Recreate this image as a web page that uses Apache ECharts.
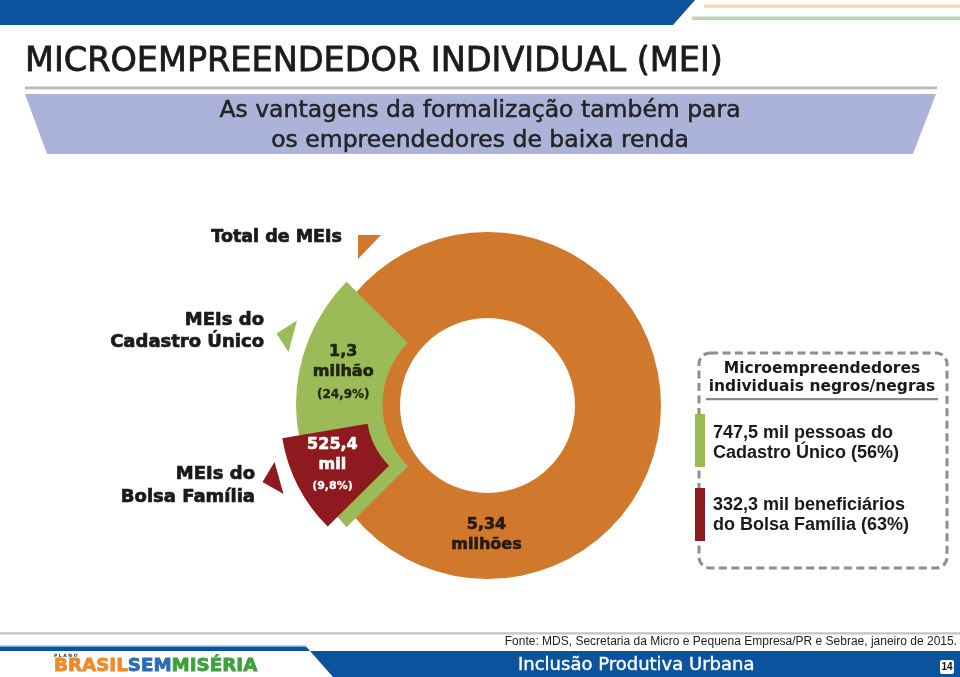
<!DOCTYPE html>
<html>
<head>
<meta charset="utf-8">
<script src="https://cdn.jsdelivr.net/npm/echarts@6/dist/echarts.min.js"></script>
<style>
html,body{margin:0;padding:0;background:#fff;}
#chart{width:960px;height:677px;}
</style>
</head>
<body>
<div id="chart"></div>
<script>
// ---- data ----
const categories = ['Total de MEIs', 'MEIs do\nCadastro Único', 'MEIs do\nBolsa Família'];
const valueLabels = ['5,34', '1,3', '525,4'];
const unitLabels = ['milhões', 'milhão', 'mil'];
const valuesThousands = [5340, 1300, 525.4];
const sharePct = [100, 24.9, 9.8];
const negrosValues = ['747,5', '332,3'];
const negrosGroups = ['mil pessoas do\nCadastro Único', 'mil beneficiários\ndo Bolsa Família'];
const negrosPct = [56, 63];

// ---- styles ----
const ORANGE = '#d0782c', GREEN = '#9bbb59', RED = '#8e1a1f', BLUE = '#0b539c', LAV = '#abb4d8';
const fmtPct = v => '(' + String(v).replace('.', ',') + '%)';

const chart = echarts.init(document.getElementById('chart'), null, {renderer: 'canvas'});

function txt(x, y, text, font, fill, align, valign, extra) {
  return {
    type: 'text', x: x, y: y, silent: true,
    style: Object.assign({
      text: text, font: font, fill: fill,
      textAlign: align, textVerticalAlign: valign,
      align: align, verticalAlign: valign
    }, extra || {})
  };
}
const heavy = c => ({stroke: c, lineWidth: 0.7});

const startA = 180 + sharePct[1] * 3.6 / 2;

function richStyle(color, size, lh, bw) {
  return {fontFamily: 'DejaVu Sans', fontWeight: 'bold', fontSize: size, color: color, lineHeight: lh, align: 'center',
          textBorderColor: color, textBorderWidth: bw};
}

const option = {
  animation: false,
  backgroundColor: '#ffffff',
  graphic: {
    elements: [
      // header
      {type: 'polygon', silent: true, shape: {points: [[0,0],[695,0],[673,25],[0,25]]}, style: {fill: BLUE}},
      {type: 'rect', silent: true, shape: {x: 704, y: 4.5, width: 256, height: 3.5}, style: {fill: '#f8d8b8'}},
      {type: 'rect', silent: true, shape: {x: 692, y: 16.5, width: 268, height: 3.5}, style: {fill: '#bdd3b9'}},
      txt(25, 62, 'MICROEMPREENDEDOR INDIVIDUAL (MEI)', '33.5px "DejaVu Sans"', '#1b1b1b', 'left', 'middle', {stroke: '#1b1b1b', lineWidth: 0.8}),
      {type: 'rect', silent: true, shape: {x: 25, y: 86.5, width: 912, height: 2.8}, style: {fill: '#b9b9b9'}},
      {type: 'polygon', silent: true, shape: {points: [[25,94],[936,94],[913,154],[47,154]]}, style: {fill: LAV}},
      txt(480, 125.5, 'As vantagens da formalização também para\nos empreendedores de baixa renda', '23.5px "DejaVu Sans"', '#232323', 'center', 'middle', {lineHeight: 30, stroke: '#232323', lineWidth: 0.5}),

      // left labels
      txt(342, 237, categories[0], 'bold 17.5px "DejaVu Sans"', '#1a1a1a', 'right', 'middle', heavy('#1a1a1a')),
      txt(264, 331.5, categories[1], 'bold 18px "DejaVu Sans"', '#1a1a1a', 'right', 'middle', Object.assign({lineHeight: 22}, heavy('#1a1a1a'))),
      txt(255, 486, categories[2], 'bold 18px "DejaVu Sans"', '#1a1a1a', 'right', 'middle', Object.assign({lineHeight: 23}, heavy('#1a1a1a'))),

      // pointer triangles
      {type: 'polygon', silent: true, shape: {points: [[358,235],[381,235],[358,259]]}, style: {fill: ORANGE}},
      {type: 'polygon', silent: true, shape: {points: [[297,320.5],[276.5,333.5],[288.5,352]]}, style: {fill: GREEN}},
      {type: 'polygon', silent: true, shape: {points: [[274.5,462],[262.5,482],[283.5,494]]}, style: {fill: RED}},

      // right box
      {type: 'rect', silent: true, shape: {x: 699, y: 353, width: 248, height: 215, r: 11},
        style: {fill: 'none', stroke: '#8e8e8e', lineWidth: 3, lineDash: [8, 4.5]}},
      txt(822, 378, 'Microempreendedores\nindividuais negros/negras', 'bold 15.5px "DejaVu Sans"', '#1a1a1a', 'center', 'middle', {lineHeight: 18}),
      {type: 'rect', silent: true, shape: {x: 706, y: 398, width: 232, height: 2.2}, style: {fill: '#8a8a8a'}},
      {type: 'rect', silent: true, shape: {x: 695, y: 414, width: 10, height: 53}, style: {fill: GREEN}},
      {type: 'rect', silent: true, shape: {x: 695, y: 488, width: 10, height: 53}, style: {fill: RED}},
      txt(713, 443, negrosValues[0] + ' ' + negrosGroups[0] + ' (' + negrosPct[0] + '%)', 'bold 18px "Liberation Sans", Arial', '#1a1a1a', 'left', 'middle', {lineHeight: 20}),
      txt(713, 515, negrosValues[1] + ' ' + negrosGroups[1] + ' (' + negrosPct[1] + '%)', 'bold 18px "Liberation Sans", Arial', '#1a1a1a', 'left', 'middle', {lineHeight: 20}),

      // footer
      {type: 'rect', silent: true, shape: {x: 0, y: 632.3, width: 960, height: 2.2}, style: {fill: '#c3c3c3'}},
      txt(957, 641.5, 'Fonte: MDS, Secretaria da Micro e Pequena Empresa/PR e Sebrae, janeiro de 2015.', '12px "Liberation Sans Narrow", "Liberation Sans", Arial', '#222', 'right', 'middle'),
      {type: 'rect', silent: true, shape: {x: 0, y: 645.5, width: 306, height: 1.5}, style: {fill: '#7aa6d8'}},
      {type: 'polygon', silent: true, shape: {points: [[0,647],[306.5,647],[310,651],[960,651],[960,677],[333,677],[310,651],[0,651]]}, style: {fill: BLUE}},
      txt(518, 665.5, 'Inclusão Produtiva Urbana', '18px "DejaVu Sans"', '#ffffff', 'left', 'middle', {stroke: '#ffffff', lineWidth: 0.4}),
      {type: 'rect', silent: true, shape: {x: 940, y: 660, width: 14, height: 14, r: 2}, style: {fill: '#ffffff'}},
      txt(947, 667.5, '14', 'bold 10px "Liberation Sans", Arial', '#111', 'center', 'middle'),
      txt(54, 656, 'P L A N O', 'bold 4.5px "DejaVu Sans"', '#333', 'left', 'middle'),
      {type: 'text', x: 54, y: 666, silent: true,
        style: {text: '{a|BRASIL}{b|SEM}{c|MISÉRIA}', font: 'bold 18.3px "DejaVu Sans"',
          textVerticalAlign: 'middle', verticalAlign: 'middle', textAlign: 'left', align: 'left',
          rich: {
            a: {fill: '#f08a28', font: 'bold 18.3px "DejaVu Sans"', stroke: '#f08a28', lineWidth: 0.8},
            b: {fill: '#2d6cb6', font: 'bold 18.3px "DejaVu Sans"', stroke: '#2d6cb6', lineWidth: 0.8},
            c: {fill: '#3ea23c', font: 'bold 18.3px "DejaVu Sans"', stroke: '#3ea23c', lineWidth: 0.8}
          }}}
    ]
  },
  series: [
    {
      type: 'pie', silent: true, z: 1,
      center: [487.5, 405.5], radius: [87.5, 173.5],
      startAngle: 90, avoidLabelOverlap: false,
      itemStyle: {borderWidth: 0},
      emphasis: {disabled: true},
      data: [{value: valuesThousands[0], name: categories[0], itemStyle: {color: ORANGE}}],
      label: {
        show: true, position: 'inside',
        formatter: () => '{v|' + valueLabels[0] + '}\n{u|' + unitLabels[0] + '}',
        rich: {v: richStyle('#241a10', 16, 20, 0.6), u: richStyle('#241a10', 16, 20, 0.6)}
      },
      labelLine: {show: false},
      labelLayout: {dx: -1, dy: -4}
    },
    {
      type: 'pie', silent: true, z: 2,
      center: [470, 404.5], radius: [87.5, 174],
      startAngle: startA, clockwise: true, avoidLabelOverlap: false,
      itemStyle: {borderWidth: 0},
      emphasis: {disabled: true},
      data: [
        {value: sharePct[1], name: categories[1], itemStyle: {color: GREEN}},
        {value: 100 - sharePct[1], name: 'rest', itemStyle: {color: 'rgba(0,0,0,0)'}, label: {show: false}}
      ],
      label: {
        show: true, position: 'inside',
        formatter: () => '{v|' + valueLabels[1] + '}\n{u|' + unitLabels[1] + '}\n{p|' + fmtPct(sharePct[1]) + '}',
        rich: {v: richStyle('#1e2412', 16, 20, 0.6), u: richStyle('#1e2412', 16, 20, 0.6), p: richStyle('#1e2412', 12, 26, 0.3)}
      },
      labelLine: {show: false},
      labelLayout: {dx: 7, dy: -29.5}
    },
    {
      type: 'pie', silent: true, z: 3,
      center: [444, 411], radius: [77.5, 164],
      startAngle: startA, clockwise: true, avoidLabelOverlap: false,
      itemStyle: {borderWidth: 0},
      emphasis: {disabled: true},
      data: [
        {value: sharePct[2], name: categories[2], itemStyle: {color: RED}},
        {value: 100 - sharePct[2], name: 'rest', itemStyle: {color: 'rgba(0,0,0,0)'}, label: {show: false}}
      ],
      label: {
        show: true, position: 'inside',
        formatter: () => '{v|' + valueLabels[2] + '}\n{u|' + unitLabels[2] + '}\n{p|' + fmtPct(sharePct[2]) + '}',
        rich: {v: richStyle('#ffffff', 16, 19, 0.6), u: richStyle('#ffffff', 16, 21, 0.6), p: richStyle('#ffffff', 11, 22, 0.3)}
      },
      labelLine: {show: false},
      labelLayout: {dx: -1.5, dy: -1.5}
    }
  ]
};
chart.setOption(option);
</script>
</body>
</html>
